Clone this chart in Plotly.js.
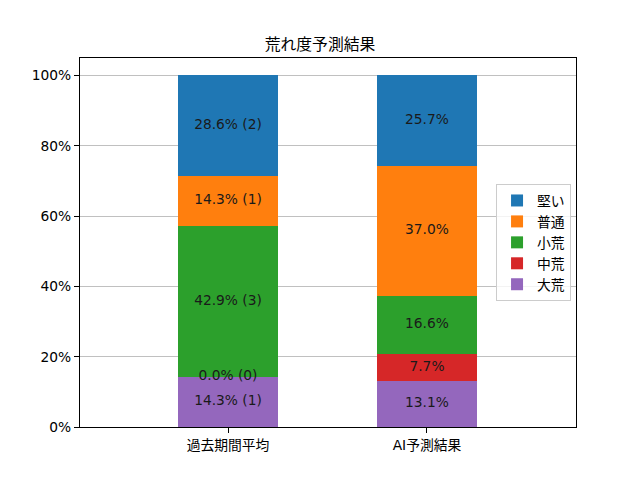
<!DOCTYPE html>
<html>
<head>
<meta charset="utf-8">
<script src="https://cdn.plot.ly/plotly-3.0.1.min.js"></script>
<style>
  html, body { margin: 0; padding: 0; background: #fff; }
  #chart { width: 640px; height: 480px; }
</style>
</head>
<body>
<div id="chart"></div>
<script>
// categories and series (stacked bottom -> top)
var categories = ["過去期間平均", "AI予測結果"];
var seriesNames = ["大荒", "中荒", "小荒", "普通", "堅い"];
var seriesColors = ["#9467bd", "#d62728", "#2ca02c", "#ff7f0e", "#1f77b4"];

// percentages
var pastPct = [14.3, 0.0, 42.9, 14.3, 28.6];
var pastCount = [1, 0, 3, 1, 2];
var aiPct = [13.1, 7.7, 16.6, 37.0, 25.7];

var yTicks = [0, 20, 40, 60, 80, 100];

var font = "DejaVu Sans, Noto Sans CJK JP, sans-serif";

var data = [];
for (var i = 0; i < seriesNames.length; i++) {
  data.push({
    type: "bar",
    name: seriesNames[i],
    x: categories,
    y: [pastPct[i], aiPct[i]],
    width: 0.5,
    marker: { color: seriesColors[i], line: { width: 0 } },
    hoverinfo: "skip"
  });
}

// labels at the middle of each segment
var lx = [], ly = [], lt = [];
var basePast = 0, baseAi = 0;
for (var i = 0; i < seriesNames.length; i++) {
  lx.push(categories[0]);
  ly.push(basePast + pastPct[i] / 2);
  lt.push(pastPct[i].toFixed(1) + "% (" + pastCount[i] + ")");
  basePast += pastPct[i];

  lx.push(categories[1]);
  ly.push(baseAi + aiPct[i] / 2);
  lt.push(aiPct[i].toFixed(1) + "%");
  baseAi += aiPct[i];
}
data.push({
  type: "scatter",
  mode: "text",
  x: lx,
  y: ly,
  text: lt,
  textposition: "middle center",
  textfont: { family: font, size: 13.8, color: "#1a1a1a" },
  showlegend: false,
  hoverinfo: "skip",
  cliponaxis: false
});

var layout = {
  width: 640,
  height: 480,
  margin: { l: 80, r: 64, t: 57.6, b: 52.8 },
  paper_bgcolor: "#ffffff",
  plot_bgcolor: "#ffffff",
  barmode: "stack",
  font: { family: font, size: 13.8, color: "#000" },
  title: {
    text: "荒れ度予測結果",
    font: { family: font, size: 15.8, color: "#000" },
    x: 0.5,
    xanchor: "center",
    y: 0.908,
    yanchor: "middle"
  },
  xaxis: {
    type: "category",
    range: [-0.744, 1.749],
    showline: true, mirror: true, linecolor: "#000", linewidth: 1,
    ticks: "outside", ticklen: 5, tickcolor: "#000", tickwidth: 1,
    showgrid: false, zeroline: false,
    tickfont: { family: font, size: 13.8, color: "#000" }
  },
  yaxis: {
    range: [0, 105],
    tickvals: yTicks,
    ticktext: yTicks.map(function (v) { return v + "%"; }),
    showline: true, mirror: true, linecolor: "#000", linewidth: 1,
    ticks: "outside", ticklen: 5, tickcolor: "#000", tickwidth: 1,
    showgrid: true, gridcolor: "#b0b0b0", gridwidth: 0.8,
    zeroline: false,
    tickfont: { family: font, size: 13.8, color: "#000" }
  },
  showlegend: true,
  legend: {
    traceorder: "reversed",
    x: 0.99, xanchor: "right",
    y: 0.5, yanchor: "middle",
    bgcolor: "rgba(255,255,255,0.8)",
    bordercolor: "#cccccc",
    borderwidth: 1,
    itemwidth: 30,
    font: { family: font, size: 13.8, color: "#000" }
  }
};

Plotly.newPlot("chart", data, layout, { displayModeBar: false, staticPlot: true });
</script>
</body>
</html>
